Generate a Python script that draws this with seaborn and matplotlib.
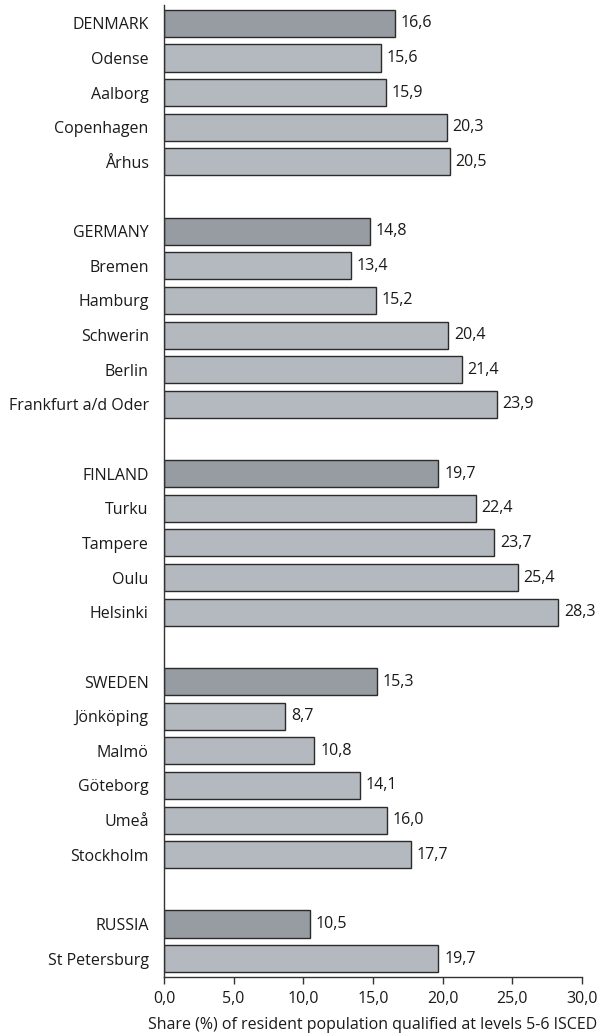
import matplotlib
matplotlib.use("Agg")
import matplotlib.pyplot as plt
import seaborn as sns
import pandas as pd

# Share (%) of resident population with tertiary qualification (ISCED 5-6)
denmark_labels = ["DENMARK", "Odense", "Aalborg", "Copenhagen", "Århus"]
denmark_values = [16.6, 15.6, 15.9, 20.3, 20.5]
germany_labels = ["GERMANY", "Bremen", "Hamburg", "Schwerin", "Berlin", "Frankfurt a/d Oder"]
germany_values = [14.8, 13.4, 15.2, 20.4, 21.4, 23.9]
finland_labels = ["FINLAND", "Turku", "Tampere", "Oulu", "Helsinki"]
finland_values = [19.7, 22.4, 23.7, 25.4, 28.3]
sweden_labels = ["SWEDEN", "Jönköping", "Malmö", "Göteborg", "Umeå", "Stockholm"]
sweden_values = [15.3, 8.7, 10.8, 14.1, 16.0, 17.7]
russia_labels = ["RUSSIA", "St Petersburg"]
russia_values = [10.5, 19.7]

x_ticks = [0, 5, 10, 15, 20, 25, 30]

blocks = [
    (denmark_labels, denmark_values),
    (germany_labels, germany_values),
    (finland_labels, finland_values),
    (sweden_labels, sweden_values),
    (russia_labels, russia_values),
]

# Lay rows out top to bottom, leaving one empty row between country blocks
rows = []
pos = 0
for labels, values in blocks:
    for i, (lab, val) in enumerate(zip(labels, values)):
        rows.append({"label": lab, "value": val, "pos": pos,
                     "kind": "country" if i == 0 else "city"})
        pos += 1
    pos += 1
df = pd.DataFrame(rows)
n_slots = pos - 1

sns.set_theme(style="white")
plt.rcParams["font.family"] = ["Open Sans", "DejaVu Sans"]
FS = 11.5
TXT = "#1a1a1a"

fig = plt.figure(figsize=(6.01, 10.36), dpi=100)
ax = fig.add_axes([164 / 601, 59 / 1036, (582 - 164) / 601, (1031 - 59) / 1036])

sns.barplot(data=df, x="value", y="pos", hue="kind", orient="h",
            native_scale=True, dodge=False, width=0.78,
            palette={"country": "#959ba4", "city": "#b2b9c1"},
            edgecolor="#2b2b2b", linewidth=1.0, legend=False, ax=ax)

ax.set_ylim(n_slots - 0.47, -0.53)
ax.set_xlim(0, 30)
ax.set_yticks(df["pos"])
ax.set_yticklabels(df["label"], fontsize=FS, color=TXT)
ax.set_xticks(x_ticks)
ax.set_xticklabels([f"{t:.1f}".replace(".", ",") for t in x_ticks],
                   fontsize=FS, color=TXT)
ax.tick_params(axis="y", length=0, pad=11)
ax.tick_params(axis="x", direction="out", length=5, width=1, color="#333333",
               bottom=True, pad=5)
ax.set_xlabel("Share (%) of resident population qualified at levels 5-6 ISCED",
              fontsize=FS, color=TXT, labelpad=7)
ax.set_ylabel("")

for side in ["top", "right"]:
    ax.spines[side].set_visible(False)
for side in ["left", "bottom"]:
    ax.spines[side].set_color("#333333")
    ax.spines[side].set_linewidth(1.0)

for _, r in df.iterrows():
    ax.text(r["value"] + 0.4, r["pos"], f"{r['value']:.1f}".replace(".", ","),
            va="center", ha="left", fontsize=FS, color=TXT)

fig.savefig("out.png", dpi=100, facecolor="white")
